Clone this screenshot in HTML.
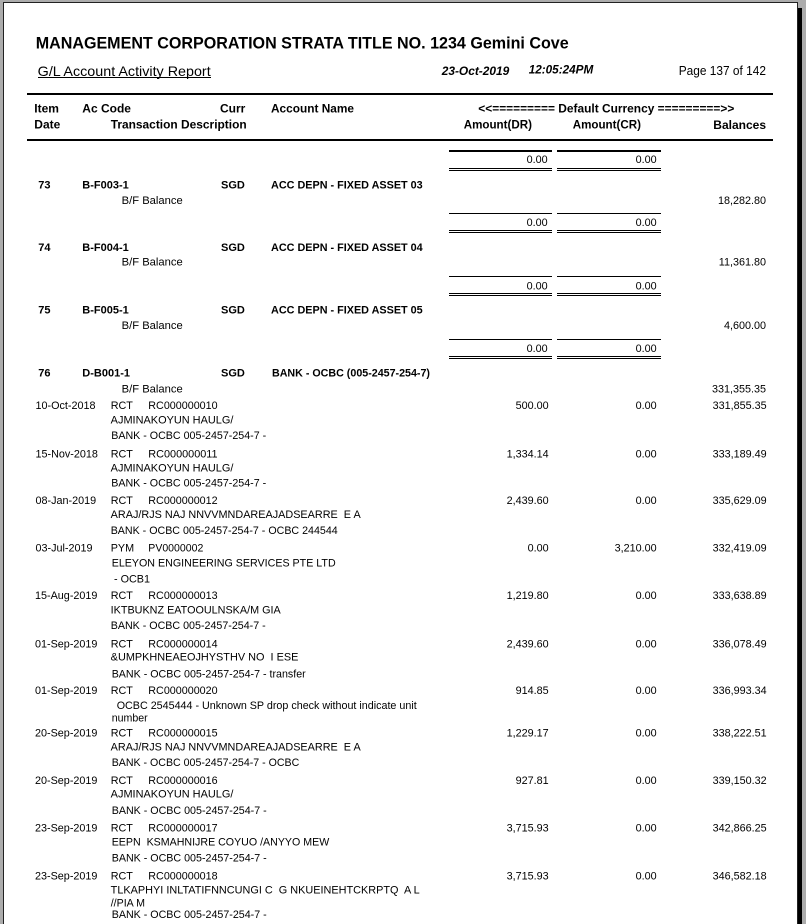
<!DOCTYPE html>
<html><head><meta charset="utf-8"><style>
html,body{margin:0;padding:0;width:806px;height:924px;overflow:hidden;background:#acacac}
svg{display:block}
text{font-family:"Liberation Sans",Arial,sans-serif;fill:#000;white-space:pre}
.d{font-size:10.8px}
.h{font-size:12px;font-weight:bold}
.i{font-size:11px;font-weight:bold}
</style></head><body>
<svg width="806" height="924" viewBox="0 0 806 924" xmlns="http://www.w3.org/2000/svg" xml:space="preserve" shape-rendering="crispEdges">
<rect x="0" y="0" width="806" height="924" fill="#acacac"/>
<rect x="3" y="2" width="795" height="922" fill="#222"/>
<rect x="4" y="3" width="793" height="921" fill="#fff"/>
<rect x="798" y="8" width="4" height="916" fill="#000"/>

<text x="35.7" y="48.3" font-size="17" font-weight="bold" textLength="533" lengthAdjust="spacingAndGlyphs">MANAGEMENT CORPORATION STRATA TITLE NO. 1234 Gemini Cove</text>
<text x="37.7" y="76" font-size="14" textLength="173" lengthAdjust="spacingAndGlyphs">G/L Account Activity Report</text>
<rect x="38" y="77" width="173" height="1" fill="#000"/>
<text x="441.7" y="75" font-size="12" font-weight="bold" font-style="italic" textLength="67.6" lengthAdjust="spacingAndGlyphs">23-Oct-2019</text>
<text x="528.7" y="73.3" font-size="12" font-weight="bold" font-style="italic" textLength="64.6" lengthAdjust="spacingAndGlyphs">12:05:24PM</text>
<text x="678.7" y="75" font-size="12.5" textLength="87.3" lengthAdjust="spacingAndGlyphs">Page 137 of 142</text>

<rect x="27" y="93" width="746" height="2" fill="#000"/>
<rect x="27" y="139" width="746" height="2" fill="#000"/>

<text class="h" x="34.3" y="112.3">Item</text>
<text class="h" x="82.3" y="112.3">Ac Code</text>
<text class="h" x="220" y="112.3">Curr</text>
<text class="h" x="271" y="112.3" textLength="83" lengthAdjust="spacingAndGlyphs">Account Name</text>
<text class="h" x="478.3" y="112.3" textLength="256" lengthAdjust="spacingAndGlyphs">&lt;&lt;========= Default Currency =========&gt;&gt;</text>
<text class="h" x="34.3" y="128.3">Date</text>
<text class="h" x="110.7" y="128.3" textLength="136" lengthAdjust="spacingAndGlyphs">Transaction Description</text>
<text class="h" x="463.7" y="128.3" textLength="68.3" lengthAdjust="spacingAndGlyphs">Amount(DR)</text>
<text class="h" x="572.7" y="128.3" textLength="68.3" lengthAdjust="spacingAndGlyphs">Amount(CR)</text>
<text class="h" x="766" y="128.8" text-anchor="end">Balances</text>

<!-- top totals block -->
<rect x="449" y="150" width="103" height="2" fill="#000"/>
<rect x="557" y="150" width="104" height="2" fill="#000"/>
<text class="d" x="547.7" y="163" text-anchor="end">0.00</text>
<text class="d" x="656.7" y="163" text-anchor="end">0.00</text>
<rect x="449" y="168" width="103" height="1" fill="#000"/>
<rect x="449" y="170" width="103" height="1" fill="#000"/>
<rect x="557" y="168" width="104" height="1" fill="#000"/>
<rect x="557" y="170" width="104" height="1" fill="#000"/>

<!-- block 73 -->
<text class="i" x="38.3" y="188.5">73</text>
<text class="i" x="82.3" y="188.5">B-F003-1</text>
<text class="i" x="221" y="188.5">SGD</text>
<text class="i" x="271" y="188.5" textLength="151.7" lengthAdjust="spacingAndGlyphs">ACC DEPN - FIXED ASSET 03</text>
<text class="d" x="121.7" y="204" textLength="61" lengthAdjust="spacingAndGlyphs">B/F Balance</text>
<text class="d" x="766" y="204" text-anchor="end">18,282.80</text>
<rect x="449" y="213" width="103" height="1" fill="#000"/>
<rect x="557" y="213" width="104" height="1" fill="#000"/>
<text class="d" x="547.7" y="226.2" text-anchor="end">0.00</text>
<text class="d" x="656.7" y="226.2" text-anchor="end">0.00</text>
<rect x="449" y="230" width="103" height="1" fill="#000"/>
<rect x="449" y="232" width="103" height="1" fill="#000"/>
<rect x="557" y="230" width="104" height="1" fill="#000"/>
<rect x="557" y="232" width="104" height="1" fill="#000"/>

<!-- block 74 -->
<text class="i" x="38.3" y="251">74</text>
<text class="i" x="82.3" y="251">B-F004-1</text>
<text class="i" x="221" y="251">SGD</text>
<text class="i" x="271" y="251" textLength="151.7" lengthAdjust="spacingAndGlyphs">ACC DEPN - FIXED ASSET 04</text>
<text class="d" x="121.7" y="265.7" textLength="61" lengthAdjust="spacingAndGlyphs">B/F Balance</text>
<text class="d" x="766" y="265.7" text-anchor="end">11,361.80</text>
<rect x="449" y="276" width="103" height="1" fill="#000"/>
<rect x="557" y="276" width="104" height="1" fill="#000"/>
<text class="d" x="547.7" y="289.4" text-anchor="end">0.00</text>
<text class="d" x="656.7" y="289.4" text-anchor="end">0.00</text>
<rect x="449" y="293" width="103" height="1" fill="#000"/>
<rect x="449" y="295" width="103" height="1" fill="#000"/>
<rect x="557" y="293" width="104" height="1" fill="#000"/>
<rect x="557" y="295" width="104" height="1" fill="#000"/>

<!-- block 75 -->
<text class="i" x="38.3" y="313.5">75</text>
<text class="i" x="82.3" y="313.5">B-F005-1</text>
<text class="i" x="221" y="313.5">SGD</text>
<text class="i" x="271" y="313.5" textLength="151.7" lengthAdjust="spacingAndGlyphs">ACC DEPN - FIXED ASSET 05</text>
<text class="d" x="121.7" y="329" textLength="61" lengthAdjust="spacingAndGlyphs">B/F Balance</text>
<text class="d" x="766" y="329" text-anchor="end">4,600.00</text>
<rect x="449" y="339" width="103" height="1" fill="#000"/>
<rect x="557" y="339" width="104" height="1" fill="#000"/>
<text class="d" x="547.7" y="352.2" text-anchor="end">0.00</text>
<text class="d" x="656.7" y="352.2" text-anchor="end">0.00</text>
<rect x="449" y="356" width="103" height="1" fill="#000"/>
<rect x="449" y="358" width="103" height="1" fill="#000"/>
<rect x="557" y="356" width="104" height="1" fill="#000"/>
<rect x="557" y="358" width="104" height="1" fill="#000"/>

<!-- block 76 -->
<text class="i" x="38.3" y="376.3">76</text>
<text class="i" x="82.3" y="376.3">D-B001-1</text>
<text class="i" x="221" y="376.3">SGD</text>
<text class="i" x="272" y="376.3" textLength="158" lengthAdjust="spacingAndGlyphs">BANK - OCBC (005-2457-254-7)</text>
<text class="d" x="121.7" y="392.3" textLength="61" lengthAdjust="spacingAndGlyphs">B/F Balance</text>
<text class="d" x="766" y="392.3" text-anchor="end">331,355.35</text>

<text class="d" x="35.5" y="409">10-Oct-2018</text>
<text class="d" x="110.7" y="409">RCT</text>
<text class="d" x="148.3" y="409" textLength="69.3" lengthAdjust="spacingAndGlyphs">RC000000010</text>
<text class="d" x="548.7" y="409" text-anchor="end">500.00</text>
<text class="d" x="656.7" y="409" text-anchor="end">0.00</text>
<text class="d" x="766.7" y="409" text-anchor="end">331,855.35</text>
<text class="d" x="110.7" y="423.3" textLength="122.7" lengthAdjust="spacingAndGlyphs">AJMINAKOYUN HAULG/</text>
<text class="d" x="111.2" y="439" textLength="155" lengthAdjust="spacingAndGlyphs">BANK - OCBC 005-2457-254-7 -</text>

<text class="d" x="35.5" y="457.3">15-Nov-2018</text>
<text class="d" x="110.7" y="457.3">RCT</text>
<text class="d" x="148.3" y="457.3" textLength="69.3" lengthAdjust="spacingAndGlyphs">RC000000011</text>
<text class="d" x="548.7" y="457.3" text-anchor="end">1,334.14</text>
<text class="d" x="656.7" y="457.3" text-anchor="end">0.00</text>
<text class="d" x="766.7" y="457.3" text-anchor="end">333,189.49</text>
<text class="d" x="110.7" y="471.3" textLength="122.7" lengthAdjust="spacingAndGlyphs">AJMINAKOYUN HAULG/</text>
<text class="d" x="111.2" y="486.7" textLength="155" lengthAdjust="spacingAndGlyphs">BANK - OCBC 005-2457-254-7 -</text>

<text class="d" x="35.5" y="504">08-Jan-2019</text>
<text class="d" x="110.7" y="504">RCT</text>
<text class="d" x="148.3" y="504" textLength="69.3" lengthAdjust="spacingAndGlyphs">RC000000012</text>
<text class="d" x="548.7" y="504" text-anchor="end">2,439.60</text>
<text class="d" x="656.7" y="504" text-anchor="end">0.00</text>
<text class="d" x="766.7" y="504" text-anchor="end">335,629.09</text>
<text class="d" x="110.7" y="518" textLength="250" lengthAdjust="spacingAndGlyphs">ARAJ/RJS NAJ NNVVMNDAREAJADSEARRE  E A</text>
<text class="d" x="110.7" y="534" textLength="227" lengthAdjust="spacingAndGlyphs">BANK - OCBC 005-2457-254-7 - OCBC 244544</text>

<text class="d" x="35.5" y="551.7">03-Jul-2019</text>
<text class="d" x="110.7" y="551.7">PYM</text>
<text class="d" x="148.3" y="551.7" textLength="55" lengthAdjust="spacingAndGlyphs">PV0000002</text>
<text class="d" x="548.7" y="551.7" text-anchor="end">0.00</text>
<text class="d" x="656.7" y="551.7" text-anchor="end">3,210.00</text>
<text class="d" x="766.7" y="551.7" text-anchor="end">332,419.09</text>
<text class="d" x="111.7" y="566.3" textLength="224" lengthAdjust="spacingAndGlyphs">ELEYON ENGINEERING SERVICES PTE LTD</text>
<text class="d" x="114" y="582.3" textLength="36" lengthAdjust="spacingAndGlyphs">- OCB1</text>

<text class="d" x="35" y="599">15-Aug-2019</text>
<text class="d" x="110.7" y="599">RCT</text>
<text class="d" x="148.3" y="599" textLength="69.3" lengthAdjust="spacingAndGlyphs">RC000000013</text>
<text class="d" x="548.7" y="599" text-anchor="end">1,219.80</text>
<text class="d" x="656.7" y="599" text-anchor="end">0.00</text>
<text class="d" x="766.7" y="599" text-anchor="end">333,638.89</text>
<text class="d" x="110.7" y="613.3" textLength="170" lengthAdjust="spacingAndGlyphs">IKTBUKNZ EATOOULNSKA/M GIA</text>
<text class="d" x="110.7" y="629" textLength="155" lengthAdjust="spacingAndGlyphs">BANK - OCBC 005-2457-254-7 -</text>

<text class="d" x="35" y="647.3">01-Sep-2019</text>
<text class="d" x="110.7" y="647.3">RCT</text>
<text class="d" x="148.3" y="647.3" textLength="69.3" lengthAdjust="spacingAndGlyphs">RC000000014</text>
<text class="d" x="548.7" y="647.3" text-anchor="end">2,439.60</text>
<text class="d" x="656.7" y="647.3" text-anchor="end">0.00</text>
<text class="d" x="766.7" y="647.3" text-anchor="end">336,078.49</text>
<text class="d" x="110.7" y="660.7" textLength="187.7" lengthAdjust="spacingAndGlyphs">&amp;UMPKHNEAEOJHYSTHV NO  I ESE</text>
<text class="d" x="111.7" y="677.3" textLength="194" lengthAdjust="spacingAndGlyphs">BANK - OCBC 005-2457-254-7 - transfer</text>

<text class="d" x="35" y="694">01-Sep-2019</text>
<text class="d" x="110.7" y="694">RCT</text>
<text class="d" x="148.3" y="694" textLength="69.3" lengthAdjust="spacingAndGlyphs">RC000000020</text>
<text class="d" x="548.7" y="694" text-anchor="end">914.85</text>
<text class="d" x="656.7" y="694" text-anchor="end">0.00</text>
<text class="d" x="766.7" y="694" text-anchor="end">336,993.34</text>
<text class="d" x="116.7" y="709" textLength="300" lengthAdjust="spacingAndGlyphs">OCBC 2545444 - Unknown SP drop check without indicate unit</text>
<text class="d" x="111.7" y="721.3" textLength="36" lengthAdjust="spacingAndGlyphs">number</text>

<text class="d" x="35" y="736.3">20-Sep-2019</text>
<text class="d" x="110.7" y="736.3">RCT</text>
<text class="d" x="148.3" y="736.3" textLength="69.3" lengthAdjust="spacingAndGlyphs">RC000000015</text>
<text class="d" x="548.7" y="736.3" text-anchor="end">1,229.17</text>
<text class="d" x="656.7" y="736.3" text-anchor="end">0.00</text>
<text class="d" x="766.7" y="736.3" text-anchor="end">338,222.51</text>
<text class="d" x="110.7" y="750.7" textLength="250" lengthAdjust="spacingAndGlyphs">ARAJ/RJS NAJ NNVVMNDAREAJADSEARRE  E A</text>
<text class="d" x="111.7" y="766" textLength="187.6" lengthAdjust="spacingAndGlyphs">BANK - OCBC 005-2457-254-7 - OCBC</text>

<text class="d" x="35" y="784">20-Sep-2019</text>
<text class="d" x="110.7" y="784">RCT</text>
<text class="d" x="148.3" y="784" textLength="69.3" lengthAdjust="spacingAndGlyphs">RC000000016</text>
<text class="d" x="548.7" y="784" text-anchor="end">927.81</text>
<text class="d" x="656.7" y="784" text-anchor="end">0.00</text>
<text class="d" x="766.7" y="784" text-anchor="end">339,150.32</text>
<text class="d" x="110.7" y="797.3" textLength="122.7" lengthAdjust="spacingAndGlyphs">AJMINAKOYUN HAULG/</text>
<text class="d" x="111.7" y="814" textLength="155" lengthAdjust="spacingAndGlyphs">BANK - OCBC 005-2457-254-7 -</text>

<text class="d" x="35" y="831.3">23-Sep-2019</text>
<text class="d" x="110.7" y="831.3">RCT</text>
<text class="d" x="148.3" y="831.3" textLength="69.3" lengthAdjust="spacingAndGlyphs">RC000000017</text>
<text class="d" x="548.7" y="831.3" text-anchor="end">3,715.93</text>
<text class="d" x="656.7" y="831.3" text-anchor="end">0.00</text>
<text class="d" x="766.7" y="831.3" text-anchor="end">342,866.25</text>
<text class="d" x="111.7" y="845.7" textLength="217.6" lengthAdjust="spacingAndGlyphs">EEPN  KSMAHNIJRE COYUO /ANYYO MEW</text>
<text class="d" x="111.7" y="861.3" textLength="155" lengthAdjust="spacingAndGlyphs">BANK - OCBC 005-2457-254-7 -</text>

<text class="d" x="35" y="879.3">23-Sep-2019</text>
<text class="d" x="110.7" y="879.3">RCT</text>
<text class="d" x="148.3" y="879.3" textLength="69.3" lengthAdjust="spacingAndGlyphs">RC000000018</text>
<text class="d" x="548.7" y="879.3" text-anchor="end">3,715.93</text>
<text class="d" x="656.7" y="879.3" text-anchor="end">0.00</text>
<text class="d" x="766.7" y="879.3" text-anchor="end">346,582.18</text>
<text class="d" x="110.7" y="893.3" textLength="309" lengthAdjust="spacingAndGlyphs">TLKAPHYI INLTATIFNNCUNGI C  G NKUEINEHTCKRPTQ  A L</text>
<text class="d" x="110.7" y="906.3" textLength="34.3" lengthAdjust="spacingAndGlyphs">//PIA M</text>
<text class="d" x="111.7" y="918" textLength="155" lengthAdjust="spacingAndGlyphs">BANK - OCBC 005-2457-254-7 -</text>
</svg>
</body></html>
